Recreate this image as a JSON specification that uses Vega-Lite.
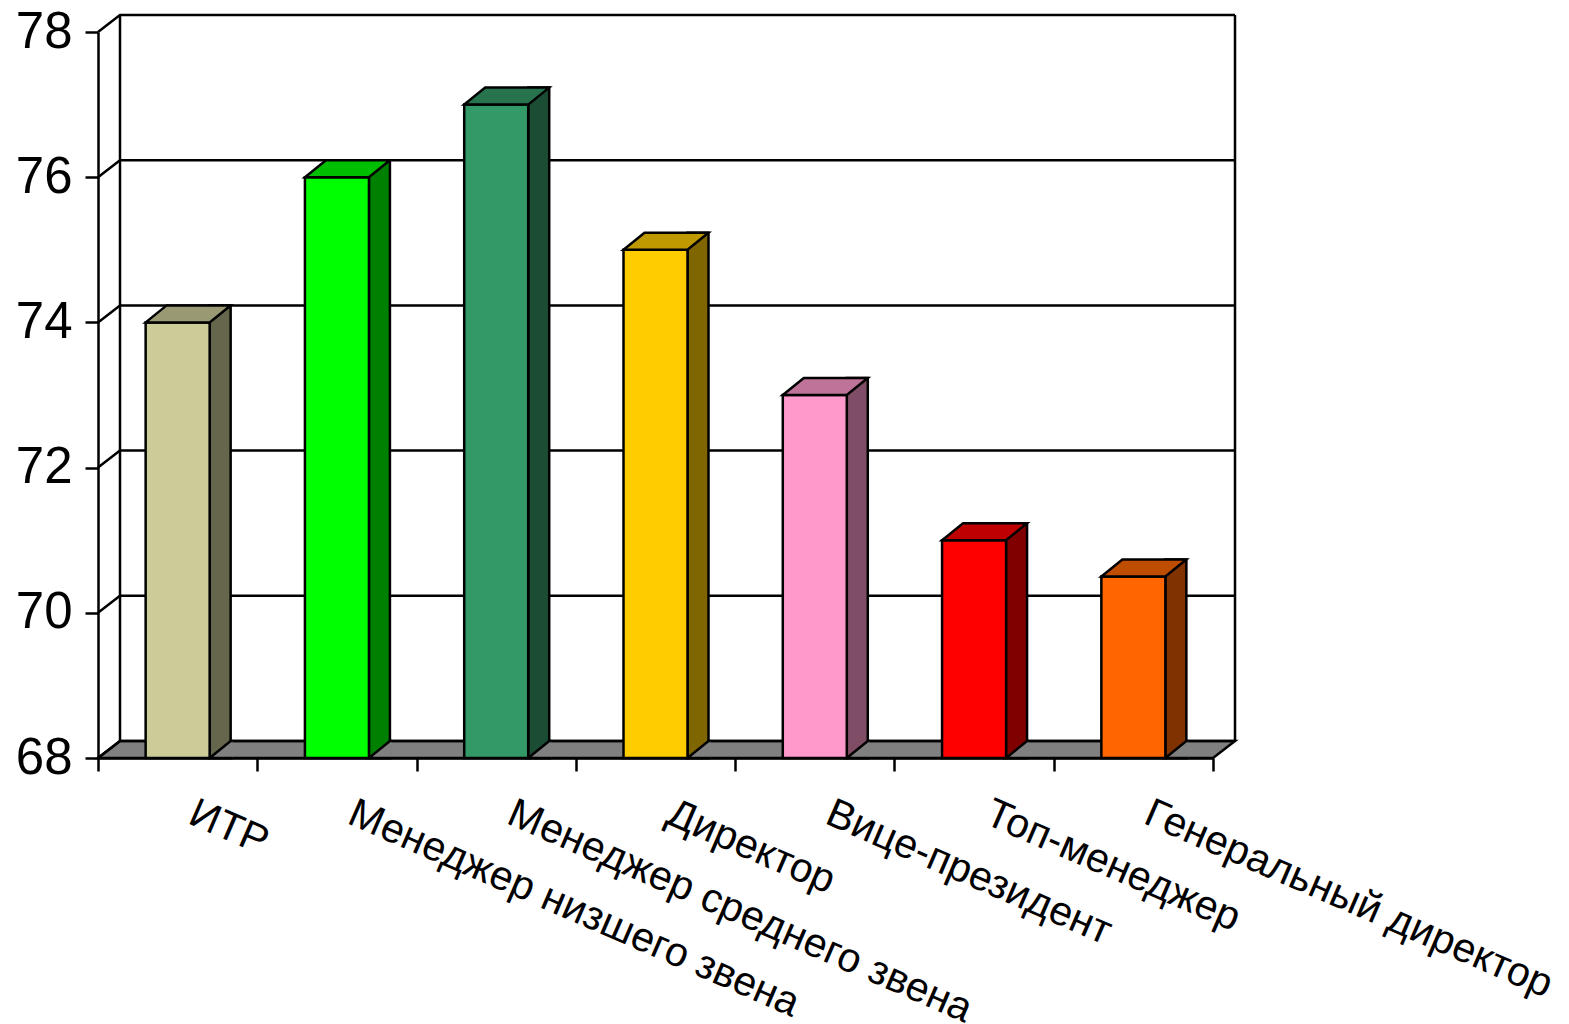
{
  "$schema": "https://vega.github.io/schema/vega-lite/v6.json",
  "width": 1115,
  "height": 726,
  "autosize": {"type": "none"},
  "padding": {"left": 98, "top": 32, "right": 356, "bottom": 266},
  "background": "white",
  "config": {
    "view": {"stroke": null},
    "font": "Liberation Sans",
    "axis": {
      "grid": false,
      "domainColor": "black",
      "domainWidth": 2.5,
      "tickColor": "black",
      "tickWidth": 2.5,
      "tickSize": 13,
      "labelColor": "black",
      "labelFont": "Liberation Sans",
      "zindex": 1
    },
    "axisX": {
      "tickBand": "extent",
      "labelAngle": 23.5,
      "labelAlign": "left",
      "labelBaseline": "top",
      "labelFontSize": 41,
      "labelPadding": 22,
      "labelOffset": 21,
      "labelLimit": 0,
      "labelOverlap": false
    },
    "axisY": {
      "tickCount": 5,
      "labelFontSize": 51,
      "labelPadding": 13
    }
  },
  "datasets": {
    "salary": [
      {"role": "ИТР", "value": 74},
      {"role": "Менеджер низшего звена", "value": 76},
      {"role": "Менеджер среднего звена", "value": 77},
      {"role": "Директор", "value": 75},
      {"role": "Вице-президент", "value": 73},
      {"role": "Топ-менеджер", "value": 71},
      {"role": "Генеральный директор", "value": 70.5}
    ],
    "levels": [
      {"level": 68}, {"level": 70}, {"level": 72}, {"level": 74}, {"level": 76}, {"level": 78}
    ]
  },
  "data": {"name": "salary"},
  "resolve": {"scale": {"color": "independent"}},
  "layer": [
    {
      "transform": [{"filter": "datum.role === 'ИТР'"}],
      "mark": {"type": "point", "shape": "M0,0L1115,0L1137,-17L22,-17Z", "size": 4, "filled": true, "opacity": 1, "fill": "#808080", "stroke": "black", "strokeWidth": 2.5},
      "encoding": {
        "x": {"field": "role", "type": "nominal", "title": null, "bandPosition": 0, "scale": {"domain": ["ИТР", "Менеджер низшего звена", "Менеджер среднего звена", "Директор", "Вице-президент", "Топ-менеджер", "Генеральный директор"], "paddingInner": 0, "paddingOuter": 0}},
        "y": {"datum": 68, "type": "quantitative", "title": null, "scale": {"domain": [68, 78], "zero": false, "nice": false}}
      }
    },
    {
      "data": {"name": "levels"},
      "mark": {"type": "point", "shape": "M0,0L22,-17L1137,-17", "size": 4, "filled": false, "opacity": 1, "fill": null, "stroke": "black", "strokeWidth": 2.5},
      "encoding": {
        "x": {"datum": "ИТР", "type": "nominal", "title": null, "bandPosition": 0},
        "y": {"field": "level", "type": "quantitative", "title": null}
      }
    },
    {
      "transform": [{"filter": "datum.role === 'ИТР'"}],
      "mark": {"type": "rule", "xOffset": 22, "yOffset": -17, "y2Offset": -17, "stroke": "black", "strokeWidth": 2.5},
      "encoding": {
        "x": {"field": "role", "type": "nominal", "title": null, "bandPosition": 0},
        "y": {"datum": 68, "type": "quantitative", "title": null},
        "y2": {"datum": 78}
      }
    },
    {
      "transform": [{"filter": "datum.role === 'Генеральный директор'"}],
      "mark": {"type": "rule", "xOffset": 22, "yOffset": -17, "y2Offset": -17, "stroke": "black", "strokeWidth": 2.5},
      "encoding": {
        "x": {"field": "role", "type": "nominal", "title": null, "bandPosition": 1},
        "y": {"datum": 68, "type": "quantitative", "title": null},
        "y2": {"datum": 78}
      }
    },
    {
      "mark": {"type": "bar", "width": 21, "xOffset": 42.5, "yOffset": -17, "stroke": "black", "strokeWidth": 2.5, "opacity": 1},
      "encoding": {
        "x": {"field": "role", "type": "nominal", "title": null},
        "y": {"field": "value", "type": "quantitative", "title": null},
        "y2": {"datum": 68},
        "color": {"field": "role", "type": "nominal", "legend": null, "scale": {"domain": ["ИТР", "Менеджер низшего звена", "Менеджер среднего звена", "Директор", "Вице-президент", "Топ-менеджер", "Генеральный директор"], "range": ["#66664D", "#008000", "#1A4D33", "#806600", "#804D66", "#800000", "#803300"]}}
      }
    },
    {
      "mark": {"type": "point", "shape": "M55,0L32,0L53,-17L55,-17", "size": 4, "filled": true, "opacity": 1, "fill": "#808080", "stroke": "black", "strokeWidth": 2.5},
      "encoding": {
        "x": {"field": "role", "type": "nominal", "title": null},
        "y": {"datum": 68, "type": "quantitative", "title": null}
      }
    },
    {
      "mark": {"type": "bar", "width": 64, "stroke": "black", "strokeWidth": 2.5, "opacity": 1},
      "encoding": {
        "x": {"field": "role", "type": "nominal", "title": null},
        "y": {"field": "value", "type": "quantitative", "title": null},
        "y2": {"datum": 68},
        "color": {"field": "role", "type": "nominal", "legend": null, "scale": {"domain": ["ИТР", "Менеджер низшего звена", "Менеджер среднего звена", "Директор", "Вице-президент", "Топ-менеджер", "Генеральный директор"], "range": ["#CCCC99", "#00FF00", "#339966", "#FFCC00", "#FF99CC", "#FF0000", "#FF6600"]}}
      }
    },
    {
      "mark": {"type": "point", "shape": "M-32,0L32,0L53,-17L-11,-17Z", "size": 4, "filled": true, "opacity": 1, "stroke": "black", "strokeWidth": 2.5},
      "encoding": {
        "x": {"field": "role", "type": "nominal", "title": null},
        "y": {"field": "value", "type": "quantitative", "title": null},
        "color": {"field": "role", "type": "nominal", "legend": null, "scale": {"domain": ["ИТР", "Менеджер низшего звена", "Менеджер среднего звена", "Директор", "Вице-президент", "Топ-менеджер", "Генеральный директор"], "range": ["#999973", "#00BF00", "#26734D", "#BF9900", "#BF7399", "#BF0000", "#BF4D00"]}}
      }
    }
  ]
}
